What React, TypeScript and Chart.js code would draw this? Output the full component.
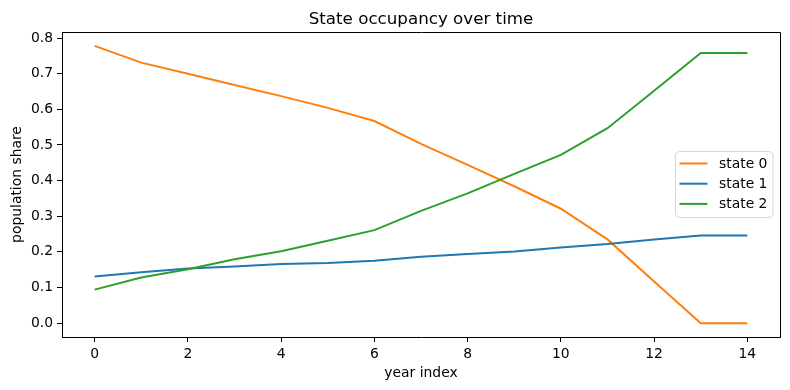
import React, { useEffect, useRef } from "react";
import { Chart, registerables } from "chart.js";

Chart.register(...registerables);

const years = [0, 1, 2, 3, 4, 5, 6, 7, 8, 9, 10, 11, 12, 13, 14];
const state0 = [0.778, 0.731, 0.700, 0.668, 0.637, 0.604, 0.567, 0.503, 0.444, 0.384, 0.321, 0.235, 0.117, 0.0, 0.0];
const state1 = [0.131, 0.143, 0.153, 0.159, 0.166, 0.169, 0.175, 0.186, 0.194, 0.201, 0.212, 0.222, 0.235, 0.246, 0.246];
const state2 = [0.094, 0.128, 0.151, 0.179, 0.202, 0.231, 0.261, 0.315, 0.364, 0.419, 0.472, 0.547, 0.652, 0.758, 0.758];
const seriesNames = ["state 0", "state 1", "state 2"];
const seriesColors = ["#ff7f0e", "#1f77b4", "#2ca02c"];
const xTicks = [0, 2, 4, 6, 8, 10, 12, 14];
const yTicks = [0.0, 0.1, 0.2, 0.3, 0.4, 0.5, 0.6, 0.7, 0.8];
const titleText = "State occupancy over time";
const xTitle = "year index";
const yTitle = "population share";

const FONT = "'DejaVu Sans', sans-serif";

export default function App() {
  const ref = useRef<HTMLCanvasElement>(null);

  useEffect(() => {
    document.body.style.margin = "0";
    const canvas = ref.current;
    if (!canvas) return;

    const overlay = {
      id: "overlay",
      afterDraw(chart: any) {
        const ctx = chart.ctx as CanvasRenderingContext2D;
        const a = chart.chartArea;
        ctx.save();
        // frame top & right
        ctx.strokeStyle = "#000";
        ctx.lineWidth = 1;
        const L = Math.round(a.left) + 0.5;
        const R = Math.round(a.right) + 0.5;
        const T = Math.round(a.top) + 0.5;
        const B = Math.round(a.bottom) + 0.5;
        ctx.beginPath();
        ctx.moveTo(L, T);
        ctx.lineTo(R, T);
        ctx.lineTo(R, B);
        ctx.stroke();

        const cx = (a.left + a.right) / 2;
        const cy = (a.top + a.bottom) / 2;
        ctx.fillStyle = "#000";
        // title
        ctx.font = `16.7px ${FONT}`;
        ctx.textAlign = "center";
        ctx.textBaseline = "alphabetic";
        ctx.fillText(titleText, cx, 24);
        // x title
        ctx.font = `13.9px ${FONT}`;
        ctx.fillText(xTitle, cx, 377);
        // y title
        ctx.save();
        ctx.translate(20.5, cy);
        ctx.rotate(-Math.PI / 2);
        ctx.fillText(yTitle, 0, 0);
        ctx.restore();

        // legend
        const bx = 675.5, by = 151.5, bw = 97.5, bh = 66;
        const r = 4;
        ctx.beginPath();
        ctx.moveTo(bx + r, by);
        ctx.lineTo(bx + bw - r, by);
        ctx.quadraticCurveTo(bx + bw, by, bx + bw, by + r);
        ctx.lineTo(bx + bw, by + bh - r);
        ctx.quadraticCurveTo(bx + bw, by + bh, bx + bw - r, by + bh);
        ctx.lineTo(bx + r, by + bh);
        ctx.quadraticCurveTo(bx, by + bh, bx, by + bh - r);
        ctx.lineTo(bx, by + r);
        ctx.quadraticCurveTo(bx, by, bx + r, by);
        ctx.closePath();
        ctx.fillStyle = "rgba(255,255,255,0.8)";
        ctx.fill();
        ctx.strokeStyle = "rgba(204,204,204,0.8)";
        ctx.stroke();
        ctx.textAlign = "left";
        ctx.textBaseline = "middle";
        ctx.font = `13.9px ${FONT}`;
        seriesNames.forEach((name, i) => {
          const yy = 163.5 + i * 20.2;
          ctx.strokeStyle = seriesColors[i];
          ctx.lineWidth = 2;
          ctx.beginPath();
          ctx.moveTo(679.5, yy);
          ctx.lineTo(707.5, yy);
          ctx.stroke();
          ctx.fillStyle = "#000";
          ctx.fillText(name, 719, yy + 0.5);
        });
        ctx.restore();
      },
    };

    const allSeries = [state0, state1, state2];
    const orders = [2, 1, 0];

    const chart = new Chart(canvas, {
      type: "line",
      data: {
        datasets: allSeries.map((s, i) => ({
          label: seriesNames[i],
          data: years.map((x, j) => ({ x, y: s[j] })),
          borderColor: seriesColors[i],
          backgroundColor: seriesColors[i],
          borderWidth: 2,
          pointRadius: 0,
          tension: 0,
          fill: false,
          order: orders[i],
        })),
      },
      options: {
        animation: false,
        responsive: false,
        devicePixelRatio: 1,
        layout: { padding: { left: 0, right: 10, top: 32, bottom: 0 } },
        plugins: {
          legend: { display: false },
          title: { display: false },
          tooltip: { enabled: false },
        },
        scales: {
          x: {
            type: "linear",
            min: -0.7,
            max: 14.7,
            afterFit: (scale: any) => {
              scale.height = 53;
            },
            afterBuildTicks: (scale: any) => {
              scale.ticks = xTicks.map((v) => ({ value: v }));
            },
            ticks: {
              color: "#000",
              font: { family: FONT, size: 13.9 },
              padding: 4,
              maxRotation: 0,
              callback: (v: any) => String(v),
            },
            grid: {
              drawOnChartArea: false,
              drawTicks: true,
              tickLength: 5,
              color: "#000",
            },
            border: { display: true, color: "#000", width: 1 },
          },
          y: {
            type: "linear",
            min: -0.0389,
            max: 0.8169,
            afterFit: (scale: any) => {
              scale.width = 62;
            },
            afterBuildTicks: (scale: any) => {
              scale.ticks = yTicks.map((v) => ({ value: v }));
            },
            ticks: {
              color: "#000",
              font: { family: FONT, size: 13.9 },
              padding: 4,
              callback: (v: any) => Number(v).toFixed(1),
            },
            grid: {
              drawOnChartArea: false,
              drawTicks: true,
              tickLength: 5,
              color: "#000",
            },
            border: { display: true, color: "#000", width: 1 },
          },
        },
      },
      plugins: [overlay],
    });

    return () => chart.destroy();
  }, []);

  return (
    <div style={{ width: 790, height: 390, background: "#fff" }}>
      <canvas ref={ref} width={790} height={390} style={{ display: "block" }} />
    </div>
  );
}
